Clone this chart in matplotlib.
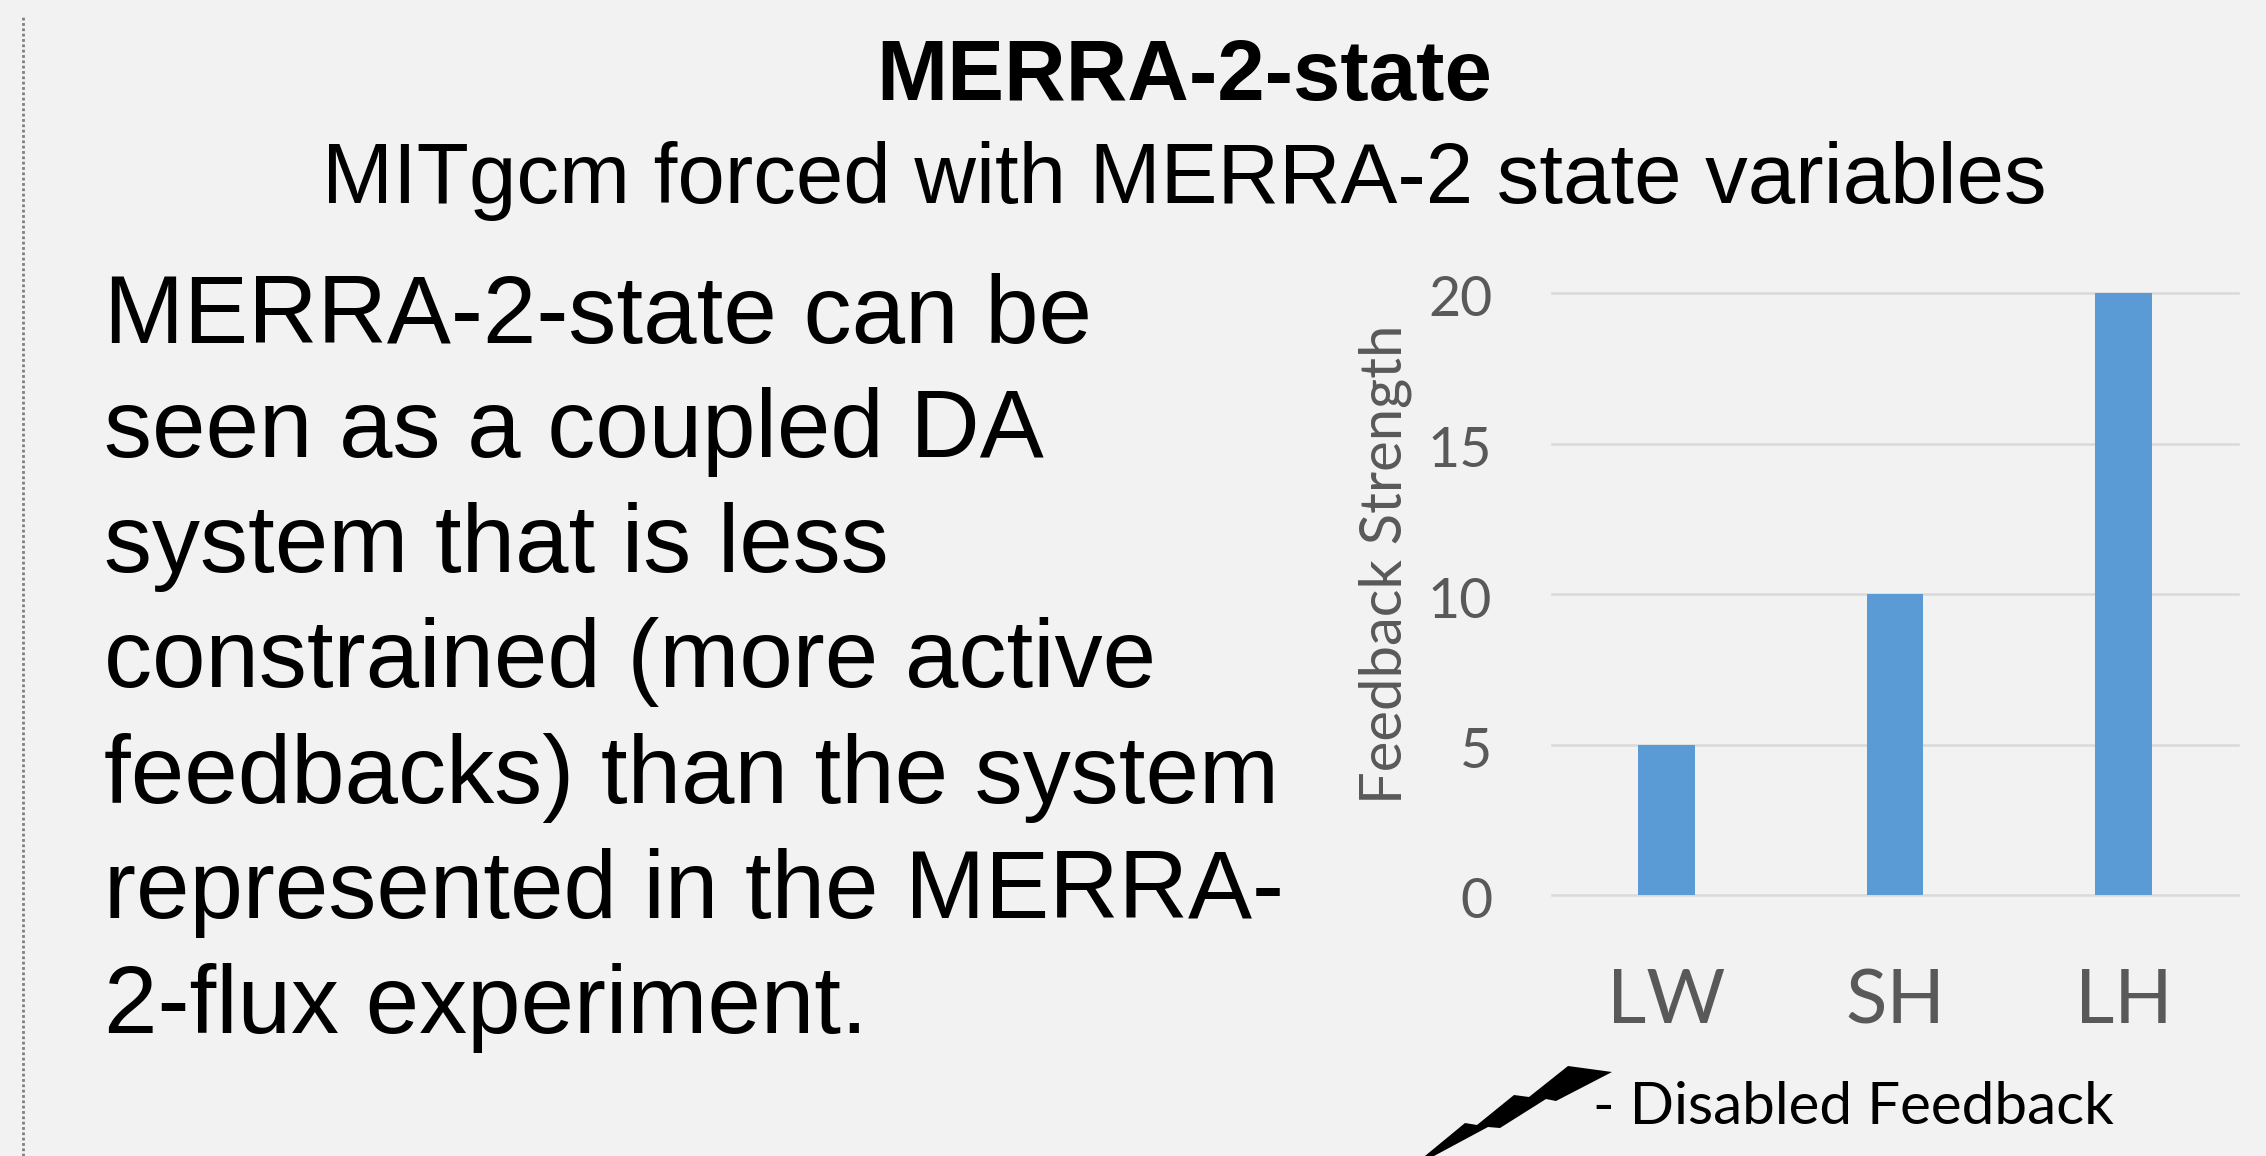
import matplotlib
matplotlib.use("Agg")
import matplotlib.pyplot as plt
from matplotlib.patches import Polygon
from matplotlib.transforms import ScaledTranslation

W = 2266
H = 1156

categories = ["LW", "SH", "LH"]
strength = [5, 10, 20]
y_ticks = [0, 5, 10, 15, 20]

title = "MERRA-2-state"
subtitle = "MITgcm forced with MERRA-2 state variables"
body_lines = [
    "MERRA-2-state can be",
    "seen as a coupled DA",
    "system that is less",
    "constrained (more active",
    "feedbacks) than the system",
    "represented in the MERRA-",
    "2-flux experiment.",
]
body_baselines = [343, 457, 572, 687, 803, 918, 1033]

SANS = "Liberation Sans"
CHART = "Lato"
BG = "#f2f2f2"
GREY = "#595959"


def px(x, y):
    # pixel position in the picture -> figure fraction
    return x / W, 1 - y / H


fig = plt.figure(figsize=(W / 100, H / 100), dpi=100, facecolor=BG)

# dotted rule at the left edge
fig.add_artist(plt.Line2D([23 / W, 23 / W], [0, 1 - 17 / H], color="#7f7f7f",
                          lw=2.0, dashes=(1.0, 0.92)))

x, y = px(1184, 100)
fig.text(x, y, title, family=SANS, weight="bold", fontsize=61.4, ha="center", va="baseline", color="black")
x, y = px(1184, 203)
fig.text(x, y, subtitle, family=SANS, fontsize=61.4, ha="center", va="baseline", color="black")

for line, base in zip(body_lines, body_baselines):
    x, y = px(104, base)
    fig.text(x, y, line, family=SANS, fontsize=69.1, ha="left", va="baseline", color="black")

# bar chart
ax = fig.add_axes([1552 / W, 1 - 895 / H, 686 / W, 602 / H], facecolor="none")
ax.bar(categories, strength, width=0.247, color="#5b9bd5", zorder=3)
ax.set_xlim(-0.5, 2.5)
ax.set_ylim(0, 20)
ax.set_yticks(y_ticks)
ax.grid(axis="y", color="#d9d9d9", lw=1.8, zorder=1)
ax.set_axisbelow(True)
for s in ax.spines.values():
    s.set_visible(False)
for gl in ax.get_ygridlines():
    gl.set_clip_on(False)
ax.tick_params(axis="both", length=0)
ax.tick_params(axis="y", labelsize=40, labelcolor=GREY, pad=43)
ax.tick_params(axis="x", labelsize=55, labelcolor=GREY, pad=52)
for lab in ax.get_xticklabels() + ax.get_yticklabels():
    lab.set_family(CHART)
# y tick numbers sit a little under their gridlines
nudge = ScaledTranslation(0, -3 / 100, fig.dpi_scale_trans)
for lab in ax.get_yticklabels():
    lab.set_transform(lab.get_transform() + nudge)
x, y = px(1385, 564)
fig.text(x, y, "Feedback Strength", family=CHART, fontsize=41.8, color=GREY, rotation=90,
         ha="center", va="center")

# lightning bolt marker for the legend
bolt = [(1568, 1066), (1612, 1072), (1556, 1101), (1546, 1099), (1500, 1128), (1488, 1127),
        (1434, 1156), (1425, 1156), (1465, 1123), (1477, 1125), (1514, 1095), (1529, 1097)]
fig.add_artist(Polygon([px(a, b) for a, b in bolt], closed=True, facecolor="black",
                       edgecolor="none", transform=fig.transFigure))
x, y = px(1593, 1124)
fig.text(x, y, "- Disabled Feedback", family=CHART, fontsize=42, color="black", ha="left", va="baseline")

fig.savefig("out.png", dpi=100, facecolor=BG)
